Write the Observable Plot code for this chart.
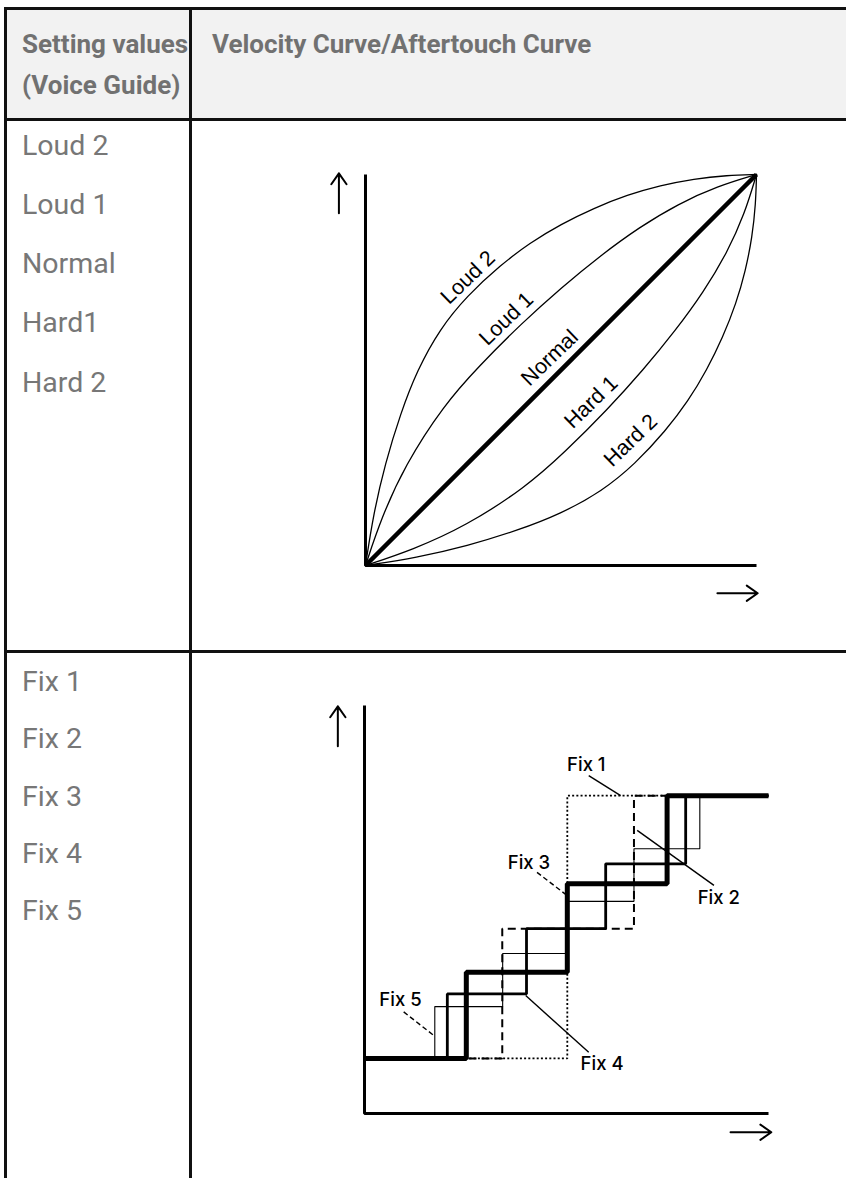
<!DOCTYPE html>
<html><head><meta charset="utf-8">
<script src="https://cdn.jsdelivr.net/npm/d3@7"></script>
<script src="https://cdn.jsdelivr.net/npm/@observablehq/plot@0.6"></script>
<style>
html,body{margin:0;padding:0;background:#fff;}
#page{position:relative;width:846px;height:1178px;overflow:hidden;font-family:Roboto,"Noto Sans",sans-serif;}
.hb{position:absolute;background:#f2f2f2;}
.ln{position:absolute;background:#111;}
.t{position:absolute;font-size:28.5px;line-height:28.5px;color:#777;white-space:nowrap;}
.h{font-weight:700;color:#717171;font-size:26px;line-height:26px;}
.chart{position:absolute;}
</style></head><body><div id="page"></div>
<script>
// ---- table texts ----
const headerLeft = ["Setting values", "(Voice Guide)"];
const headerRight = ["Velocity Curve/Aftertouch Curve"];
const row1Values = ["Loud 2", "Loud 1", "Normal", "Hard1", "Hard 2"];
const row2Values = ["Fix 1", "Fix 2", "Fix 3", "Fix 4", "Fix 5"];

// ---- top chart: curves (input 0–100 → output 0–100) ----
const loud2X = [0, 2, 5, 9, 13.2, 19, 26, 34.5, 42, 50, 58.4, 67, 75.4, 84, 92.5, 100];
const loud2Y = [0, 13, 26, 39, 49.9, 60.5, 69, 76.8, 82.5, 87.3, 91.4, 94.8, 97.2, 98.9, 99.8, 100];
const loud1X = [0, 4, 10, 20, 29, 40, 50, 60, 70, 80, 90, 100];
const loud1Y = [0, 12, 25.5, 41, 51, 62, 71, 79.2, 86.5, 92.5, 97, 100];
const normalX = [0, 100];
const normalY = [0, 100];
const hard1X = [0, 12, 25.5, 41, 51, 62, 71, 79.2, 86.5, 92.5, 97, 100];
const hard1Y = [0, 4, 10, 20, 29, 40, 50, 60, 70, 80, 90, 100];
const hard2X = [0, 13, 26, 39, 49.9, 60.5, 69, 76.8, 82.5, 87.3, 91.4, 94.8, 97.2, 98.9, 99.8, 100];
const hard2Y = [0, 2, 5, 9, 13.2, 19, 26, 34.5, 42, 50, 58.4, 67, 75.4, 84, 92.5, 100];
const curveLabels = ["Loud 2", "Loud 1", "Normal", "Hard 1", "Hard 2"];
const curveLabelX = [26.2, 36, 47.1, 57.7, 67.8];
const curveLabelY = [73.7, 63.1, 53.1, 41.8, 32];

// ---- bottom chart: fixed steps ----
const fix1X = [0, 50.2, 100];
const fix1Y = [13.5, 77.9, 77.9];
const fix2X = [0, 34.1, 66.7, 100];
const fix2Y = [13.5, 45.3, 77.9, 77.9];
const fix3X = [0, 25.2, 50.2, 74.9, 100];
const fix3Y = [13.5, 34.6, 56.3, 77.9, 77.9];
const fix4X = [0, 20.5, 40.1, 59.7, 79.5, 100];
const fix4Y = [13.5, 29.3, 45.3, 61.2, 77.9, 77.9];
const fix5X = [0, 17.4, 34.2, 50.2, 66.7, 83, 100];
const fix5Y = [13.5, 26.2, 39.2, 52, 64.9, 77.9, 77.9];
const fixLabels = ["Fix 1", "Fix 2", "Fix 3", "Fix 4", "Fix 5"];
const fixLabelX = [54.9, 87.7, 40.7, 58.8, 8.9];
const fixLabelY = [85.5, 52.9, 61.5, 12, 27.9];
const leaderX1 = [55.5, 67.5, 42.7, 39.9, 9.7];
const leaderY1 = [82.8, 69.4, 59.1, 28.9, 24.9];
const leaderX2 = [63.4, 86.5, 49.8, 55.5, 17.2];
const leaderY2 = [77.9, 55.9, 53.7, 15, 19.1];
const leaderDashed = [false, false, true, false, true];

// ---- helpers ----
const pts = (xs, ys) => xs.map((x, i) => ({x, y: ys[i]}));
const page = document.getElementById("page");
function box(cls, l, t, w, h) {
  const d = document.createElement("div");
  d.className = cls;
  Object.assign(d.style, {left: l + "px", top: t + "px", width: w + "px", height: h + "px"});
  page.appendChild(d);
}
function txt(s, l, baseline, bold) {
  const fs = bold ? 26 : 28.5;
  const d = document.createElement("div");
  d.className = "t" + (bold ? " h" : "");
  d.textContent = s;
  d.style.left = l + "px";
  d.style.top = (baseline - 0.842 * fs) + "px";
  page.appendChild(d);
}

// table
box("hb", 6, 9, 840, 110);
box("ln", 4, 7, 842, 3);
box("ln", 4, 118, 842, 3);
box("ln", 4, 650, 842, 3);
box("ln", 4, 7, 3, 1171);
box("ln", 189, 7, 3, 1171);

headerLeft.forEach((s, i) => txt(s, 22, 52.5 + i * 41.5, true));
headerRight.forEach((s, i) => txt(s, 212, 52.5 + i * 41.5, true));
const r1Base = [156, 215, 274.3, 333, 392.7];
row1Values.forEach((s, i) => txt(s, 22, r1Base[i], false));
const r2Base = [691.7, 749, 806.7, 864, 921.3];
row2Values.forEach((s, i) => txt(s, 22, r2Base[i], false));

// ---- top chart ----
const axisX = [0, 0, 100];
const axisY = [100, 0, 0];
const topArrows = [
  {x1: -6.8, y1: 90.1, x2: -6.8, y2: 100.3},
  {x1: 90, y1: -7.1, x2: 100.3, y2: -7.1}
];
const curveLabelData = curveLabels.map((t, i) => ({t, x: curveLabelX[i], y: curveLabelY[i]}));
const thin = {x: "x", y: "y", curve: "basis", stroke: "#000", strokeWidth: 1.3};
const topChart = Plot.plot({
  width: 500, height: 480,
  marginLeft: 65, marginRight: 44, marginTop: 24, marginBottom: 65,
  x: {domain: [0, 100], axis: null},
  y: {domain: [0, 100], axis: null},
  style: {background: "transparent", overflow: "visible"},
  marks: [
    Plot.line(pts(loud2X, loud2Y), thin),
    Plot.line(pts(loud1X, loud1Y), thin),
    Plot.line(pts(hard1X, hard1Y), thin),
    Plot.line(pts(hard2X, hard2Y), thin),
    Plot.line(pts(normalX, normalY), {x: "x", y: "y", stroke: "#000", strokeWidth: 4.5, strokeLinecap: "butt"}),
    Plot.line(pts(axisX, axisY), {x: "x", y: "y", stroke: "#000", strokeWidth: 3, strokeLinejoin: "miter", strokeLinecap: "butt"}),
    Plot.arrow(topArrows, {x1: "x1", y1: "y1", x2: "x2", y2: "y2", stroke: "#000", strokeWidth: 2, headAngle: 70, headLength: 10}),
    Plot.text(curveLabelData, {x: "x", y: "y", text: "t", rotate: -44, fontSize: 21.5, fontFamily: "Liberation Sans", fill: "#000"})
  ]
});
topChart.classList.add("chart");
topChart.style.left = "300px";
topChart.style.top = "150px";
page.appendChild(topChart);

// ---- bottom chart ----
const botArrows = [
  {x1: -6.6, y1: 90, x2: -6.6, y2: 99.8},
  {x1: 90.6, y1: -4.6, x2: 100.7, y2: -4.6}
];
const fixLabelData = fixLabels.map((t, i) => ({t, x: fixLabelX[i], y: fixLabelY[i]}));
const leaders = leaderX1.map((x1, i) => ({x1, y1: leaderY1[i], x2: leaderX2[i], y2: leaderY2[i], dashed: leaderDashed[i]}));
const step = {x: "x", y: "y", curve: "step-after", stroke: "#000", strokeLinejoin: "miter", strokeLinecap: "butt"};
const botChart = Plot.plot({
  width: 500, height: 498,
  marginLeft: 64, marginRight: 32, marginTop: 25, marginBottom: 65,
  x: {domain: [0, 100], axis: null},
  y: {domain: [0, 100], axis: null},
  style: {background: "transparent", overflow: "visible"},
  marks: [
    Plot.line(pts(fix1X, fix1Y), {...step, strokeWidth: 1.8, strokeDasharray: "2,2.2"}),
    Plot.line(pts(fix2X, fix2Y), {...step, strokeWidth: 2, strokeDasharray: "8,5"}),
    Plot.line(pts(fix5X, fix5Y), {...step, strokeWidth: 1.1}),
    Plot.line(pts(fix4X, fix4Y), {...step, strokeWidth: 2.8}),
    Plot.line(pts(fix3X, fix3Y), {...step, strokeWidth: 5}),
    Plot.link(leaders.filter(d => !d.dashed), {x1: "x1", y1: "y1", x2: "x2", y2: "y2", stroke: "#000", strokeWidth: 1.4}),
    Plot.link(leaders.filter(d => d.dashed), {x1: "x1", y1: "y1", x2: "x2", y2: "y2", stroke: "#000", strokeWidth: 1.4, strokeDasharray: "5,3"}),
    Plot.line(pts(axisX, axisY), {x: "x", y: "y", stroke: "#000", strokeWidth: 3, strokeLinejoin: "miter", strokeLinecap: "butt"}),
    Plot.arrow(botArrows, {x1: "x1", y1: "y1", x2: "x2", y2: "y2", stroke: "#000", strokeWidth: 2, headAngle: 70, headLength: 10}),
    Plot.text(fixLabelData, {x: "x", y: "y", text: "t", fontSize: 18.5, fontFamily: "Inter", fontWeight: 500, fill: "#000"})
  ]
});
botChart.classList.add("chart");
botChart.style.left = "300px";
botChart.style.top = "680px";
page.appendChild(botChart);
</script>
</body></html>
